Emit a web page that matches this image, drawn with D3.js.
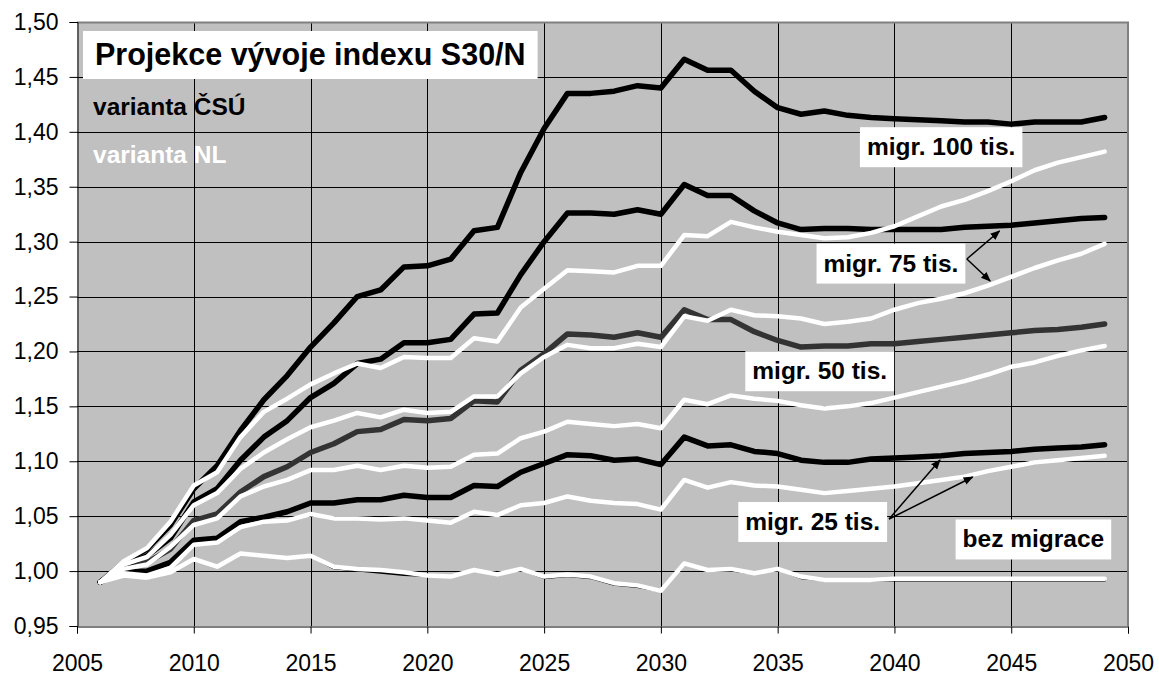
<!DOCTYPE html>
<html lang="cs">
    <head>
        <meta charset="utf-8">
        <title>Projekce vývoje indexu S30/N</title>
        <script type="text/javascript" src="https://d3js.org/d3.v7.min.js"></script>
    </head>
    <body style="margin:0;background:#fff">
        <style>
          text { font-family: "Liberation Sans", Arial, sans-serif; }
          .tick text { font-size: 23px; fill: #000; }
        </style>
        <script type="text/javascript">
            const years = [2006,2007,2008,2009,2010,2011,2012,2013,2014,2015,2016,2017,2018,2019,2020,2021,2022,2023,2024,2025,
                           2026,2027,2028,2029,2030,2031,2032,2033,2034,2035,2036,2037,2038,2039,2040,2041,2042,2043,2044,2045,
                           2046,2047,2048,2049]

            // varianta CSU
            const csu100 = [0.990,1.008,1.020,1.042,1.075,1.096,1.128,1.156,1.178,1.204, 1.226,1.250,1.256,1.277,1.278,1.284,1.310,1.313,1.363,1.403,
                            1.435,1.435,1.437,1.442,1.440,1.466,1.456,1.456,1.437,1.422, 1.416,1.419,1.415,1.413,1.412,1.411,1.410,1.409,1.409,1.407,
                            1.409,1.409,1.409,1.413]
            const csu75  = [0.990,1.005,1.014,1.030,1.063,1.075,1.101,1.122,1.137,1.158, 1.171,1.189,1.193,1.208,1.208,1.211,1.234,1.235,1.270,1.300,
                            1.326,1.326,1.325,1.329,1.325,1.352,1.342,1.342,1.328,1.317, 1.311,1.312,1.312,1.311,1.311,1.311,1.311,1.313,1.314,1.315,
                            1.317,1.319,1.321,1.322]
            const csu50  = [0.990,1.003,1.008,1.020,1.046,1.052,1.072,1.086,1.095,1.108, 1.116,1.127,1.129,1.138,1.137,1.139,1.155,1.154,1.183,1.198,
                            1.216,1.215,1.213,1.217,1.213,1.238,1.229,1.229,1.218,1.210, 1.204,1.205,1.205,1.207,1.207,1.209,1.211,1.213,1.215,1.217,
                            1.219,1.220,1.222,1.225]
            const csu25  = [0.990,0.999,1.000,1.008,1.028,1.030,1.045,1.049,1.054,1.062, 1.062,1.065,1.065,1.069,1.067,1.067,1.078,1.077,1.090,1.098,
                            1.106,1.105,1.101,1.102,1.097,1.122,1.114,1.115,1.109,1.107, 1.101,1.099,1.099,1.102,1.103,1.104,1.105,1.107,1.108,1.109,
                            1.111,1.112,1.113,1.115]
            const csuBez = [0.990,0.996,0.994,0.999,1.011,1.004,1.016,1.014,1.012,1.014, 1.003,1.001,0.999,0.997,0.996,0.995,1.001,0.997,1.002,0.994,
                            0.996,0.994,0.988,0.986,0.982,1.007,1.001,1.001,0.998,1.002, 0.994,0.992,0.992,0.992,0.992,0.992,0.992,0.992,0.992,0.992,
                            0.992,0.992,0.992,0.992]

            // varianta NL
            const nl100 = [0.990,1.009,1.021,1.045,1.078,1.090,1.122,1.145,1.157,1.170, 1.180,1.189,1.185,1.195,1.194,1.194,1.212,1.209,1.240,1.257,
                           1.274,1.273,1.272,1.278,1.278,1.306,1.305,1.318,1.313,1.309, 1.306,1.303,1.304,1.308,1.314,1.323,1.332,1.338,1.346,1.355,
                           1.365,1.372,1.377,1.382]
            const nl75  = [0.990,1.006,1.013,1.033,1.060,1.071,1.093,1.108,1.120,1.131, 1.137,1.144,1.140,1.147,1.144,1.145,1.159,1.159,1.180,1.195,
                           1.206,1.203,1.203,1.207,1.204,1.232,1.228,1.238,1.233,1.232, 1.230,1.225,1.227,1.230,1.238,1.244,1.248,1.253,1.260,1.268,
                           1.276,1.283,1.289,1.298]
            const nl50  = [0.990,1.002,1.006,1.022,1.042,1.048,1.068,1.077,1.083,1.092, 1.092,1.096,1.092,1.096,1.094,1.095,1.106,1.107,1.121,1.127,
                           1.136,1.134,1.132,1.134,1.130,1.156,1.152,1.160,1.157,1.155, 1.151,1.148,1.150,1.153,1.158,1.163,1.168,1.173,1.179,1.186,
                           1.190,1.196,1.201,1.205]
            const nl25  = [0.990,0.998,0.996,1.003,1.024,1.026,1.040,1.045,1.046,1.052, 1.048,1.048,1.047,1.048,1.046,1.044,1.054,1.051,1.060,1.062,
                           1.068,1.064,1.062,1.061,1.056,1.083,1.076,1.081,1.078,1.077, 1.074,1.071,1.073,1.075,1.077,1.080,1.083,1.086,1.091,1.095,
                           1.099,1.101,1.103,1.105]
            const nlBez = [0.990,0.996,0.994,0.999,1.011,1.004,1.016,1.014,1.012,1.014, 1.004,1.002,1.001,0.999,0.996,0.995,1.001,0.997,1.002,0.995,
                           0.997,0.995,0.989,0.987,0.982,1.007,1.001,1.002,0.998,1.002, 0.995,0.992,0.992,0.992,0.993,0.993,0.993,0.993,0.993,0.993,
                           0.993,0.993,0.993,0.993]

            const xTicks = [2005,2010,2015,2020,2025,2030,2035,2040,2045,2050]
            const yTicks = [0.95,1.00,1.05,1.10,1.15,1.20,1.25,1.30,1.35,1.40,1.45,1.50]

            // annotation boxes: text, centre year, centre value
            const labels = ["migr. 100 tis.", "migr. 75 tis.", "migr. 50 tis.", "migr. 25 tis.", "bez migrace"]
            const labelYear = [2042.0, 2039.85, 2036.8, 2036.5, 2045.95]
            const labelValue = [1.386, 1.280, 1.182, 1.0447, 1.0288]
            // arrows: [fromYear, fromValue, toYear, toValue]
            const arrows = [[2043.1, 1.2842, 2044.5, 1.3097],
                            [2043.1, 1.2842, 2044.1, 1.2642],
                            [2039.77, 1.0474, 2041.95, 1.1012],
                            [2039.77, 1.0474, 2043.35, 1.0857]]

            const W = 1159, H = 675
            const pL = 77, pR = 1128, pT = 22, pB = 626

            const svg = d3.select("body").append("svg")
                          .attr("width", W).attr("height", H)

            const x = d3.scaleLinear().domain([2005, 2050]).range([pL, pR])
            const y = d3.scaleLinear().domain([0.95, 1.50]).range([pB, pT])
            const comma = d => d3.format(".2f")(d).replace(".", ",")

            svg.append("rect")
               .attr("x", pL).attr("y", pT)
               .attr("width", pR - pL).attr("height", pB - pT)
               .attr("fill", "#c0c0c0")

            // grid
            svg.append("g").selectAll("line")
               .data(yTicks.slice(1, -1))
               .enter().append("line")
               .attr("x1", pL).attr("x2", pR)
               .attr("y1", d => Math.round(y(d)) + 0.5).attr("y2", d => Math.round(y(d)) + 0.5)
               .attr("stroke", "#000").attr("stroke-width", 1)
            svg.append("g").selectAll("line")
               .data(xTicks.slice(1, -1))
               .enter().append("line")
               .attr("y1", pT).attr("y2", pB)
               .attr("x1", d => Math.round(x(d)) + 0.5).attr("x2", d => Math.round(x(d)) + 0.5)
               .attr("stroke", "#000").attr("stroke-width", 1)

            // gray frame top/right
            svg.append("path")
               .attr("d", `M${pL},${pT + 0.5}H${pR}V${pB}`)
               .attr("fill", "none").attr("stroke", "#808080").attr("stroke-width", 2)

            // axes
            svg.append("g")
               .attr("transform", `translate(${pL + 0.5},0)`)
               .call(d3.axisLeft(y).tickValues(yTicks).tickSize(8).tickPadding(11).tickFormat(comma))
            svg.append("g")
               .attr("transform", `translate(0,${pB + 0.5})`)
               .call(d3.axisBottom(x).tickValues(xTicks).tickSize(7).tickPadding(21).tickFormat(d3.format("d")))
            svg.selectAll(".domain").attr("stroke", "#000")
            svg.selectAll(".tick line").attr("stroke", "#000")
            svg.selectAll(".tick text").attr("font-size", 23)

            // lines
            const line = d3.line().x((d, i) => x(years[i])).y(d => y(d))
            const csuSeries = [
                {v: csuBez, c: "#000", w: 3},
                {v: csu25, c: "#000", w: 5.5},
                {v: csu50, c: "#333", w: 5.5},
                {v: csu75, c: "#000", w: 5.5},
                {v: csu100, c: "#000", w: 5.5}
            ]
            const nlSeries = [nlBez, nl25, nl50, nl75, nl100]

            svg.append("g").selectAll("path")
               .data(csuSeries)
               .enter().append("path")
               .attr("d", d => line(d.v))
               .attr("fill", "none")
               .attr("stroke", d => d.c)
               .attr("stroke-width", d => d.w)
               .attr("stroke-linejoin", "round")
               .attr("stroke-linecap", "round")
            svg.append("g").selectAll("path")
               .data(nlSeries)
               .enter().append("path")
               .attr("d", d => line(d))
               .attr("fill", "none")
               .attr("stroke", "#fff")
               .attr("stroke-width", 4.5)
               .attr("stroke-linejoin", "round")
               .attr("stroke-linecap", "round")

            // title box
            const titleG = svg.append("g")
            const tbox = titleG.append("rect").attr("fill", "#fff")
            const title = titleG.append("text")
               .attr("x", 95).attr("y", 65)
               .attr("font-size", 30.5).attr("font-weight", "bold")
               .text("Projekce vývoje indexu S30/N")
            const tb = title.node().getBBox()
            tbox.attr("x", 83).attr("y", 31).attr("width", tb.x + tb.width + 12 - 83).attr("height", 48)

            svg.append("text")
               .attr("x", 93).attr("y", 115)
               .attr("font-size", 24.5).attr("font-weight", "bold").attr("fill", "#000")
               .text("varianta ČSÚ")
            svg.append("text")
               .attr("x", 93).attr("y", 163)
               .attr("font-size", 24.5).attr("font-weight", "bold").attr("fill", "#fff")
               .text("varianta NL")

            // arrows
            svg.append("defs").append("marker")
               .attr("id", "head")
               .attr("viewBox", "0 0 10 10")
               .attr("refX", 9).attr("refY", 5)
               .attr("markerWidth", 10).attr("markerHeight", 10)
               .attr("markerUnits", "userSpaceOnUse")
               .attr("orient", "auto")
               .append("path").attr("d", "M0,1L10,5L0,9Z").attr("fill", "#000")
            svg.append("g").selectAll("line")
               .data(arrows)
               .enter().append("line")
               .attr("x1", d => x(d[0])).attr("y1", d => y(d[1]))
               .attr("x2", d => x(d[2])).attr("y2", d => y(d[3]))
               .attr("stroke", "#000").attr("stroke-width", 1.5)
               .attr("marker-end", "url(#head)")

            // annotation labels
            const lab = svg.append("g").selectAll("g")
               .data(labels)
               .enter().append("g")
            lab.append("rect").attr("fill", "#fff")
            lab.append("text")
               .attr("x", (d, i) => x(labelYear[i]))
               .attr("y", (d, i) => y(labelValue[i]) + 8)
               .attr("text-anchor", "middle")
               .attr("font-size", 24.5).attr("font-weight", "bold")
               .text(d => d)
            lab.each(function (d, i) {
                const g = d3.select(this)
                const b = g.select("text").node().getBBox()
                const cy = y(labelValue[i])
                g.select("rect")
                 .attr("x", b.x - 7).attr("width", b.width + 14)
                 .attr("y", cy - 20).attr("height", 40)
            })
        </script>
    </body>
</html>
